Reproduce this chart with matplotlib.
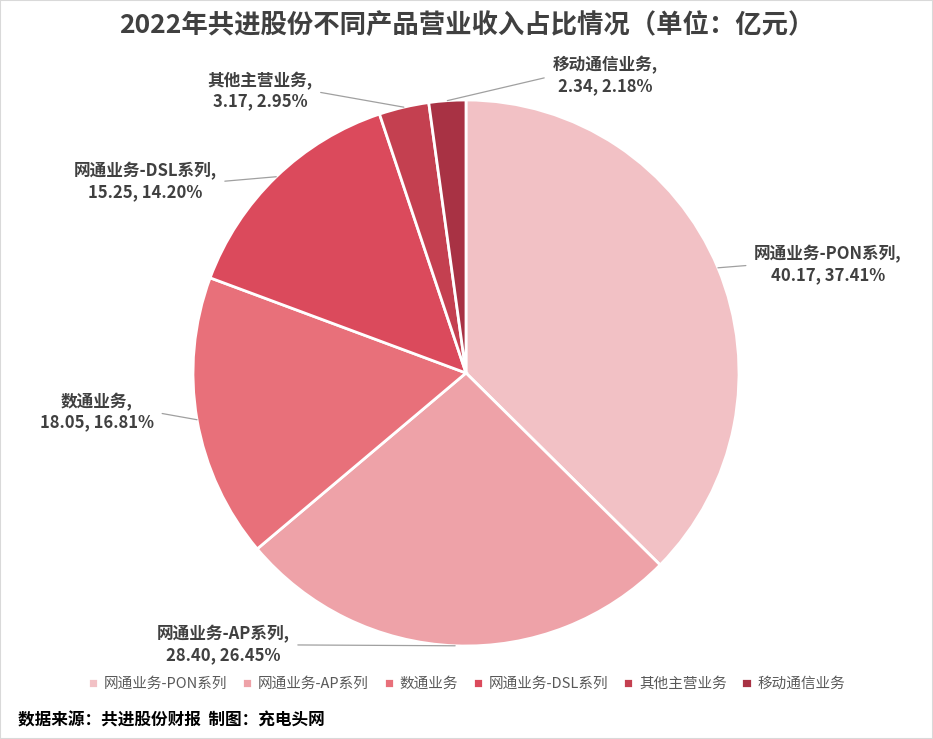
import matplotlib
matplotlib.use("Agg")
import matplotlib.pyplot as plt
import numpy as np
from matplotlib.patches import Rectangle

plt.rcParams['font.family'] = ['Noto Sans CJK SC', 'DejaVu Sans']

categories = ['网通业务-PON系列', '网通业务-AP系列', '数通业务', '网通业务-DSL系列', '其他主营业务', '移动通信业务']
values = [40.17, 28.40, 18.05, 15.25, 3.17, 2.34]
percents = ['37.41%', '26.45%', '16.81%', '14.20%', '2.95%', '2.18%']
colors = ['#F2C1C5', '#EEA2A8', '#E8707A', '#DB4A5C', '#C44050', '#A83244']

title = '2022年共进股份不同产品营业收入占比情况（单位：亿元）'
footer = '数据来源：共进股份财报  制图：充电头网'

# label layout (text centres in pie-radius units, attach side)
label_pos = [(1.326, 0.396), (-0.890, -0.996), (-1.352, -0.143),
             (-1.176, 0.700), (-0.755, 1.033), (0.509, 1.088)]
label_rel = [(0, 0.5), (1, 0.5), (1, 0.5), (1, 0.5), (1, 0.5), (0, 0.5)]

W, H = 933, 739
fig = plt.figure(figsize=(W / 100, H / 100), dpi=100)
fig.patches.append(Rectangle((0, 0), 1, 1, transform=fig.transFigure, fill=False,
                             edgecolor='#D9D9D9', linewidth=1.5))

cx, cy, r = 466, 373, 273
ax = fig.add_axes([(cx - r) / W, (H - cy - r) / H, 2 * r / W, 2 * r / H])
wedges, _ = ax.pie(values, colors=colors, startangle=90, counterclock=False,
                   radius=1, wedgeprops=dict(edgecolor='white', linewidth=2))
ax.set_xlim(-1, 1)
ax.set_ylim(-1, 1)
ax.axis('off')

for w, cat, v, p, pos, rel in zip(wedges, categories, values, percents, label_pos, label_rel):
    mid = np.deg2rad((w.theta1 + w.theta2) / 2)
    xy = (np.cos(mid), np.sin(mid))
    ax.annotate(f'{cat},\n{v:.2f}, {p}', xy=xy, xytext=pos, ha='center', va='center',
                multialignment='center', fontsize=12, fontweight='bold', color='#404040',
                linespacing=1.2, annotation_clip=False,
                arrowprops=dict(arrowstyle='-', color='#A0A0A0', lw=0.9,
                                relpos=rel, shrinkA=4, shrinkB=0))

fig.text(0.5, 1 - 25 / H, title, ha='center', va='center', fontsize=19,
         fontweight='bold', color='#404040')

leg = fig.legend(wedges, categories, loc='center', bbox_to_anchor=(0.5, 1 - 684 / H),
                 ncol=6, frameon=False, fontsize=10.5, handlelength=0.7, handleheight=0.7,
                 handletextpad=0.4, columnspacing=1.0, borderaxespad=0)
for t in leg.get_texts():
    t.set_color('#595959')

fig.text(18 / W, 1 - 720 / H, footer, ha='left', va='center', fontsize=12,
         fontweight='bold', color='#000000')

fig.savefig('out.png', dpi=100)
